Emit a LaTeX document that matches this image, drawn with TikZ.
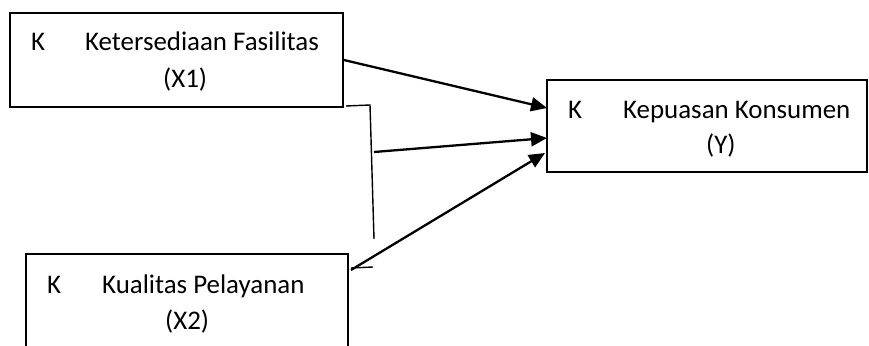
\documentclass[tikz,border=0pt]{standalone}
\usepackage{fontspec}
\setmainfont{Carlito}
\usetikzlibrary{arrows.meta}
\begin{document}
\begin{tikzpicture}[x=1pt,y=-1pt,
  varbox/.style={draw, line width=1.8pt, rectangle, inner sep=0pt},
  lbl/.style={inner sep=0pt, anchor=base west, font=\fontsize{26.9}{32}\selectfont},
  arr/.style={line width=2.3pt, -{Triangle[length=16pt,width=14pt]}},
  thin/.style={line width=1.4pt}]
\useasboundingbox (0,0) rectangle (869,345);
% variable boxes
\node[varbox, minimum width=333pt, minimum height=94pt] (x1) at (176.5,60) {};
\node[varbox, minimum width=322pt, minimum height=106pt] (x2) at (187,307) {};
\node[varbox, minimum width=320pt, minimum height=92pt] (y) at (707,126) {};
% box texts
\node[lbl] (x1k) at (31,51) {K};
\node[lbl] (x1t) at (85,51) {Ketersediaan Fasilitas};
\node[lbl] (x1c) at (163,87) {(X1)};
\node[lbl] (x2k) at (47,293) {K};
\node[lbl] (x2t) at (102,293) {Kualitas Pelayanan};
\node[lbl] (x2c) at (165,329) {(X2)};
\node[lbl] (yk) at (568,118) {K};
\node[lbl] (yt) at (623,118) {Kepuasan Konsumen};
\node[lbl] (yc) at (706,153) {(Y)};
% connector end points
\coordinate (ya) at (547,108);
\coordinate (yb) at (547,138);
\coordinate (yc2) at (545,153);
\coordinate (mstart) at (374,152);
\coordinate (bstart) at (351,270);
\coordinate (br1) at (346,106);
\coordinate (br2) at (370,105);
\coordinate (br3) at (374,239);
\coordinate (tk1) at (351,268);
\coordinate (tk2) at (373,267);
% arrows into Y
\draw[arr] (x1.east) -- (ya);
\draw[arr] (mstart) -- (yb);
\draw[arr] (bstart) -- (yc2);
% bracket line and tick
\draw[thin] (br1) -- (br2) -- (br3);
\draw[thin] (tk1) -- (tk2);
\end{tikzpicture}
\end{document}
